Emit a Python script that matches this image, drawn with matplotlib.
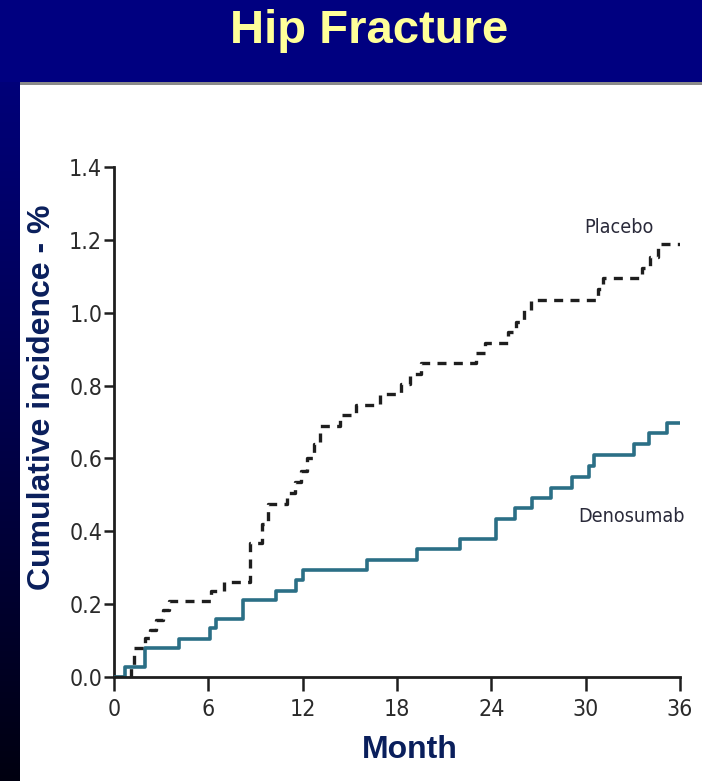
import numpy as np
import matplotlib
matplotlib.use('Agg')
import matplotlib.pyplot as plt
from matplotlib import font_manager

# step data (month, cumulative incidence %)
deno_month = [0, 0.7, 1.95, 4.15, 6.1, 6.5, 8.2, 10.3, 11.6, 12.0, 16.1, 19.3,
              22.0, 24.3, 25.5, 26.6, 27.8, 29.1, 30.2, 30.5, 33.1, 34.0, 35.2, 36.0]
deno_value = [0, 0.027, 0.08, 0.104, 0.134, 0.159, 0.212, 0.237, 0.265, 0.294, 0.32, 0.351,
              0.379, 0.434, 0.464, 0.491, 0.52, 0.55, 0.578, 0.61, 0.64, 0.67, 0.698, 0.698]

plac_month = [0, 1.1, 1.3, 2.0, 2.3, 2.7, 3.1, 3.5, 6.2, 7.0, 8.65, 9.4, 9.8, 11.0,
              11.5, 11.9, 12.3, 12.7, 13.1, 14.4, 15.4, 16.9, 18.25, 18.8, 19.5, 23.0,
              23.6, 25.05, 25.6, 26.1, 26.5, 30.8, 31.1, 33.6, 34.1, 34.6, 36.0]
plac_value = [0, 0.027, 0.08, 0.107, 0.13, 0.157, 0.184, 0.208, 0.235, 0.262, 0.368, 0.42,
              0.475, 0.505, 0.535, 0.565, 0.6, 0.64, 0.688, 0.72, 0.748, 0.776, 0.803, 0.833,
              0.862, 0.89, 0.918, 0.946, 0.975, 1.008, 1.036, 1.065, 1.095, 1.124, 1.152,
              1.188, 1.188]

x_ticks = [0, 6, 12, 18, 24, 30, 36]
y_ticks = [0.0, 0.2, 0.4, 0.6, 0.8, 1.0, 1.2, 1.4]
y_tick_labels = ['0.0', '0.2', '0.4', '0.6', '0.8', '1.0', '1.2', '1.4']

# look for a narrow / condensed face for the chart texts
narrow_path = None
scale = 0.82
for f in font_manager.fontManager.ttflist:
    fn = f.fname.lower()
    if 'liberationsansnarrow-regular' in fn:
        narrow_path, scale = f.fname, 1.0
        break
if narrow_path is None:
    for f in font_manager.fontManager.ttflist:
        fn = f.fname.lower()
        if 'dejavusanscondensed.ttf' in fn:
            narrow_path, scale = f.fname, 0.92
            break


def small_font(size):
    if narrow_path:
        return font_manager.FontProperties(fname=narrow_path, size=size * scale)
    return font_manager.FontProperties(family='Liberation Sans', size=size * scale)


bold_font = 'Liberation Sans'

W, H = 702, 781
fig = plt.figure(figsize=(W / 100, H / 100), dpi=100)

# slide background: navy banner, gradient strip on the left, white panel
bg = fig.add_axes([0, 0, 1, 1])
bg.set_xlim(0, W)
bg.set_ylim(H, 0)
bg.axis('off')
grad = np.zeros((H, 1, 3))
t = np.linspace(0, 1, H)
grad[:, 0, 2] = (128 - 112 * t ** 1.2) / 255
bg.imshow(grad, extent=(0, W, H, 0), aspect='auto')
bg.add_patch(plt.Rectangle((0, 0), W, 82, color='#000080', lw=0))
bg.add_patch(plt.Rectangle((20, 82), W - 20, 3, color='#8a8a8a', lw=0))
bg.add_patch(plt.Rectangle((20, 85), W - 20, H - 85, color='white', lw=0))

fig.text(369 / W, 1 - 31 / H, 'Hip Fracture', ha='center', va='center',
         fontsize=34, fontweight='bold', color='#FFFF99', family=bold_font)

ax = fig.add_axes([114 / W, 1 - 677 / H, 566 / W, 510 / H])
ax.patch.set_alpha(0)

ax.step(deno_month, deno_value, where='post', color='#2b6f86', lw=2.6)
ax.step(plac_month, plac_value, where='post', color='#1e1e1e', lw=2.4,
        linestyle=(0, (2.7, 2.2)))

ax.set_xlim(0, 36)
ax.set_ylim(0, 1.4)
ax.set_xticks(x_ticks)
ax.set_yticks(y_ticks)
ax.set_yticklabels(y_tick_labels)
for s in ['top', 'right']:
    ax.spines[s].set_visible(False)
for s in ['left', 'bottom']:
    ax.spines[s].set_linewidth(2.0)
    ax.spines[s].set_color('#1e1e1e')
ax.spines['left'].set_zorder(0.5)
ax.tick_params(axis='x', length=10, width=1.8, pad=5, color='#1e1e1e')
ax.tick_params(axis='y', length=7, width=1.8, pad=1.5, color='#1e1e1e')
for lab in ax.get_xticklabels() + ax.get_yticklabels():
    lab.set_fontproperties(small_font(18))
    lab.set_color('#2a2a2a')

ax.text(32.1, 1.235, 'Placebo', ha='center', va='center',
        fontproperties=small_font(15.4), color='#2a2a3a')
ax.text(32.9, 0.44, 'Denosumab', ha='center', va='center',
        fontproperties=small_font(15.4), color='#2a2a3a')

fig.text(42 / W, 1 - 397 / H, 'Cumulative incidence - %', rotation=90,
         ha='center', va='center', fontsize=23, fontweight='bold',
         color='#0a1f5c', family=bold_font)
fig.text(410 / W, 1 - 750 / H, 'Month', ha='center', va='center',
         fontsize=23, fontweight='bold', color='#0a1f5c', family=bold_font)

fig.savefig('out.png', dpi=100)
